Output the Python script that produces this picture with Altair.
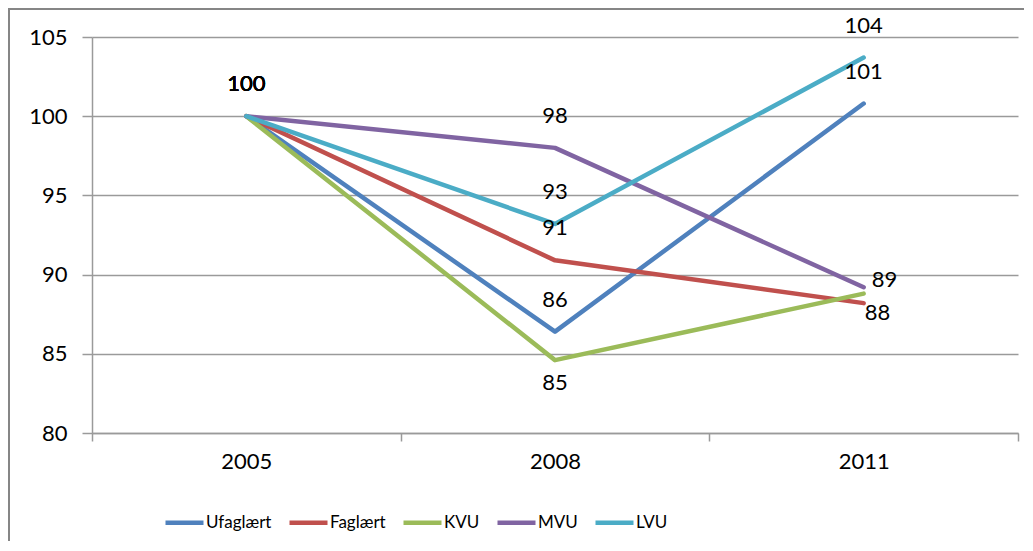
import altair as alt
import pandas as pd

years = ["2005", "2008", "2011"]
series = ["Ufaglært", "Faglært", "KVU", "MVU", "LVU"]
ufaglaert = [100, 86.4, 100.8]
faglaert = [100, 90.9, 88.2]
kvu = [100, 84.6, 88.8]
mvu = [100, 98.0, 89.2]
lvu = [100, 93.2, 103.7]
colors = ["#4F81BD", "#C0504D", "#9BBB59", "#8064A2", "#4BACC6"]
y_ticks = [80, 85, 90, 95, 100, 105]

rows = []
for name, vals in zip(series, [ufaglaert, faglaert, kvu, mvu, lvu]):
    for yr, v in zip(years, vals):
        rows.append({"series": name, "year": yr, "value": v})
df = pd.DataFrame(rows)

FONT = "Lato"
GRID = "#9a9a9a"
FS = 22

x_enc = alt.X(
    "year:O",
    scale=alt.Scale(type="band", domain=years, paddingInner=0, paddingOuter=0),
    bandPosition=0.5,
    axis=alt.Axis(
        title=None, tickBand="extent", grid=False, labelAngle=0,
        labelFont=FONT, labelFontSize=FS, labelColor="#000000",
        labelPadding=10, tickSize=8, tickColor=GRID, domainColor=GRID,
        tickWidth=1.5, domainWidth=1.5,
    ),
)
y_enc = alt.Y(
    "value:Q",
    scale=alt.Scale(domain=[80, 105], nice=False, zero=False),
    axis=alt.Axis(
        title=None, values=y_ticks, grid=True, gridColor=GRID, gridWidth=1.5,
        labelFont=FONT, labelFontSize=FS, labelColor="#000000",
        labelPadding=15, tickSize=10, tickColor=GRID, domainColor=GRID,
        tickWidth=1.5, domainWidth=1.5,
    ),
)
color_enc = alt.Color(
    "series:N",
    scale=alt.Scale(domain=series, range=colors),
    sort=series,
    legend=alt.Legend(
        title=None, orient="none", legendX=71, legendY=464, direction="horizontal",
        symbolType="stroke", symbolSize=1444, symbolStrokeWidth=4.5,
        labelFont=FONT, labelFontSize=17, labelColor="#000000",
        labelOffset=0, columnPadding=8, padding=0,
    ),
)

base = alt.Chart(df)

lines = base.mark_line(strokeWidth=4.5, strokeCap="round", strokeJoin="round").encode(
    x=x_enc, y=y_enc, color=color_enc, detail="series:N"
)

def labels(expr, **kw):
    return base.transform_filter(expr).mark_text(
        font=FONT, fontSize=FS, color="#000000", **kw
    ).encode(
        x=alt.X("year:O", bandPosition=0.5),
        y="value:Q",
        text=alt.Text("value:Q", format=".0f"),
    )

above = labels(
    "datum.year == '2005' || (datum.year == '2008' && datum.series != 'KVU') || "
    "(datum.year == '2011' && (datum.series == 'Ufaglært' || datum.series == 'LVU'))",
    dy=-32, align="center", baseline="middle",
)
below = labels("datum.year == '2008' && datum.series == 'KVU'", dy=23, align="center", baseline="middle")
right1 = labels("datum.year == '2011' && datum.series == 'MVU'", dx=8, dy=-7, align="left", baseline="middle")
right2 = labels("datum.year == '2011' && datum.series == 'Faglært'", dx=1, dy=10, align="left", baseline="middle")

one = alt.Chart(pd.DataFrame({"a": [0]}))
frame_left = one.mark_rule(color="#868686", strokeWidth=2).encode(
    x=alt.value(-83), y=alt.value(-29), y2=alt.value(520)
)
frame_top = one.mark_rule(color="#868686", strokeWidth=2).encode(
    x=alt.value(-84), x2=alt.value(932), y=alt.value(-28)
)

chart = alt.layer(lines, above, below, right1, right2, frame_left, frame_top).properties(
    width=926, height=396,
    autosize=alt.AutoSizeParams(type="none"),
    padding={"left": 84, "top": 29, "right": 6, "bottom": 108},
).configure(background="white").configure_view(stroke=None)

chart.save("out.html", embed_options={"renderer": "svg", "actions": False})
